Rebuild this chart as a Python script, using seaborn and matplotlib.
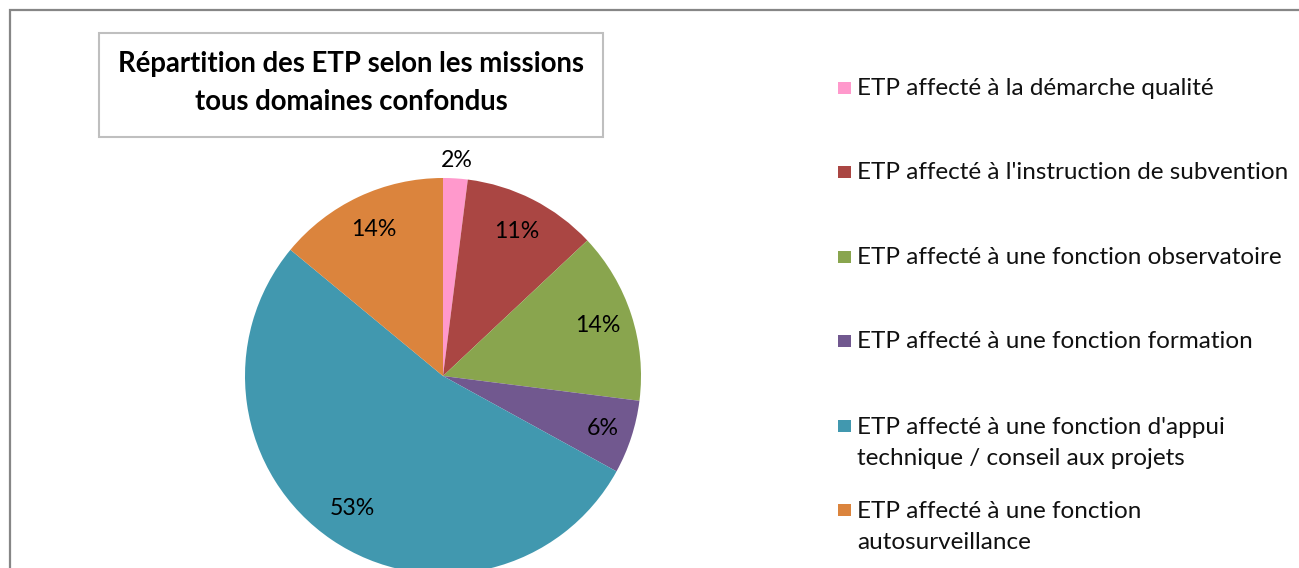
import numpy as np
import matplotlib
matplotlib.use('Agg')
import matplotlib.pyplot as plt
from matplotlib.patches import Rectangle
import seaborn as sns

# Data (percent of ETP)
missions = [
    "ETP affecté à la démarche qualité",
    "ETP affecté à l'instruction de subvention",
    "ETP affecté à une fonction observatoire",
    "ETP affecté à une fonction formation",
    "ETP affecté à une fonction d'appui\ntechnique / conseil aux projets",
    "ETP affecté à une fonction\nautosurveillance",
]
shares = [2, 11, 14, 6, 53, 14]
colors = ["#FF99CC", "#AA4643", "#89A54E", "#71588F", "#4198AF", "#DB843D"]

sns.set_theme(style='white')
plt.rcParams['font.family'] = ['Lato', 'DejaVu Sans']

W, H = 1299, 568
fig = plt.figure(figsize=(W / 100, H / 100), dpi=100)
fig.patch.set_facecolor('white')

def fx(px):
    return px / W

def fy(py):
    return 1 - py / H

# outer chart border (cropped on right/bottom)
fig.patches.append(Rectangle((fx(10), fy(700)), fx(1400), fy(10) - fy(700),
                             transform=fig.transFigure, fill=False,
                             edgecolor='#868686', linewidth=1.6))

# title box
fig.patches.append(Rectangle((fx(99), fy(137)), fx(603) - fx(99), fy(33) - fy(137),
                             transform=fig.transFigure, fill=False,
                             edgecolor='#BFBFBF', linewidth=1.5))
fig.text(fx(351), fy(83), "Répartition des ETP selon les missions\ntous domaines confondus",
         ha='center', va='center', fontsize=19.8, fontweight='bold',
         linespacing=1.54, color='black')

# pie
cx, cy, R = 443, 376, 198
ax = fig.add_axes([fx(cx - R), fy(cy + R), fx(2 * R), fy(cy - R) - fy(cy + R)])
wedges, _ = ax.pie(shares, colors=colors, startangle=90, counterclock=False,
                   wedgeprops=dict(linewidth=0))
ax.set_xlim(-1, 1)
ax.set_ylim(-1, 1)
ax.axis('off')

label_dist = [1.09, 0.82, 0.82, 0.85, 0.81, 0.82]
for w, v, d in zip(wedges, shares, label_dist):
    ang = np.deg2rad((w.theta1 + w.theta2) / 2)
    ax.text(d * np.cos(ang), d * np.sin(ang), f"{v}%", ha='center', va='center',
            fontsize=16.7, color='black')

# legend (Excel style: first line of each entry evenly spaced, marker on first line)
ys = np.linspace(88, 510, len(missions))
line_px = 32
for lab, c, y in zip(missions, colors, ys):
    fig.patches.append(Rectangle((fx(838), fy(y + 6)), fx(13), fy(y - 6) - fy(y + 6),
                                 transform=fig.transFigure, facecolor=c, edgecolor='none'))
    n = lab.count('\n')
    fig.text(fx(857), fy(y + 7 + n * line_px), lab, ha='left', va='baseline',
             fontsize=17.5, linespacing=1.56, color='#111111')

fig.savefig('out.png', dpi=100)
